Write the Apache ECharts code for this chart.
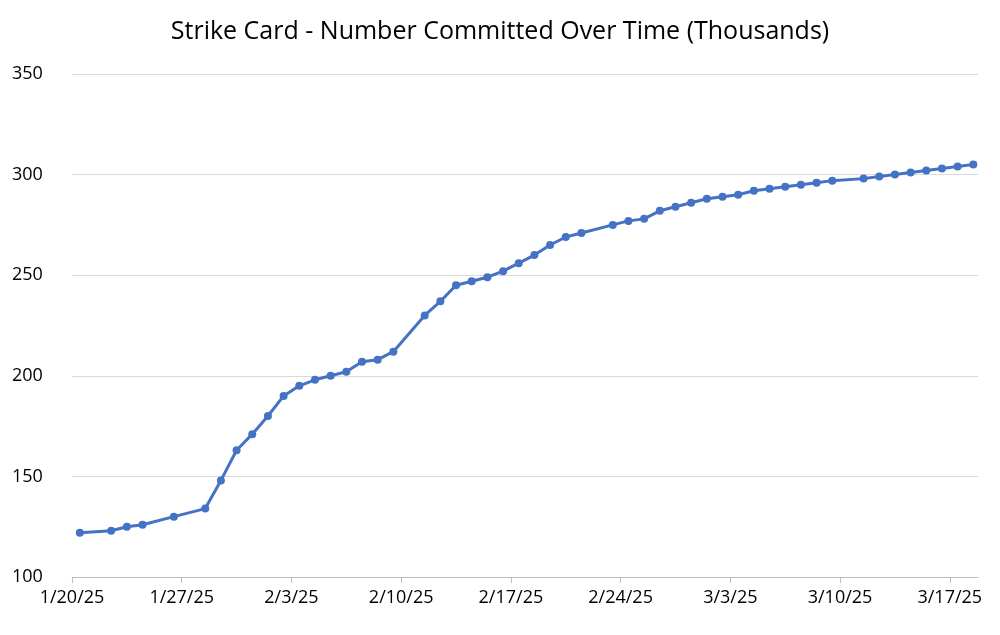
<!DOCTYPE html>
<html><head><meta charset="utf-8">
<script src="https://cdn.jsdelivr.net/npm/echarts@6/dist/echarts.min.js"></script>
<style>html,body{margin:0;padding:0;background:#fff}#c{width:1000px;height:635px}</style>
</head><body><div id="c"></div>
<script>
const dates = ["1/20","1/22","1/23","1/24","1/26","1/28","1/29","1/30","1/31","2/1","2/2","2/3","2/4","2/5","2/6","2/7","2/8","2/9",
"2/11","2/12","2/13","2/14","2/15","2/16","2/17","2/18","2/19","2/20","2/21","2/23","2/24","2/25","2/26","2/27","2/28",
"3/1","3/2","3/3","3/4","3/5","3/6","3/7","3/8","3/9","3/11","3/12","3/13","3/14","3/15","3/16","3/17","3/18"];
const committed = [122,123,125,126,130,134,148,163,171,180,190,195,198,200,202,207,208,212,
230,237,245,247,249,252,256,260,265,269,271,275,277,278,282,284,286,
288,289,290,292,293,294,295,296,297,298,299,300,301,302,303,304,305];
const tickLabels = ["1/20/25","1/27/25","2/3/25","2/10/25","2/17/25","2/24/25","3/3/25","3/10/25","3/17/25"];
const monthStart = {1:0, 2:31, 3:59};
function dayIndex(s){const [m,d]=s.split("/").map(Number);return monthStart[m]+d-20;}
const data = dates.map((s,i)=>[dayIndex(s)+0.5, committed[i]]);
const chart = echarts.init(document.getElementById('c'));
chart.setOption({
  animation:false,
  title:{text:'Strike Card - Number Committed Over Time (Thousands)',left:'center',top:14,
    textStyle:{fontFamily:'Open Sans, Liberation Sans',fontSize:25,fontWeight:'normal',color:'#000'}},
  grid:{left:72,right:22,top:74,bottom:58},
  xAxis:{type:'value',min:0,max:57.8,interval:7,
    axisLine:{lineStyle:{color:'#bfbfbf'}},axisTick:{show:true,length:6,lineStyle:{color:'#bfbfbf'}},
    splitLine:{show:false},
    axisLabel:{fontFamily:'Open Sans, Liberation Sans',fontSize:18,color:'#000',margin:12,
      formatter:v=>tickLabels[Math.round(v/7)]||''}},
  yAxis:{type:'value',min:100,max:350,interval:50,
    axisLine:{show:false},axisTick:{show:false},
    splitLine:{lineStyle:{color:'#d9d9d9'}},
    axisLabel:{fontFamily:'Open Sans, Liberation Sans',fontSize:18,color:'#000',margin:60,align:'left'}},
  series:[{type:'line',data:data,symbol:'circle',symbolSize:8,
    lineStyle:{color:'#4472c4',width:3},itemStyle:{color:'#4472c4'}}]
});
</script></body></html>
